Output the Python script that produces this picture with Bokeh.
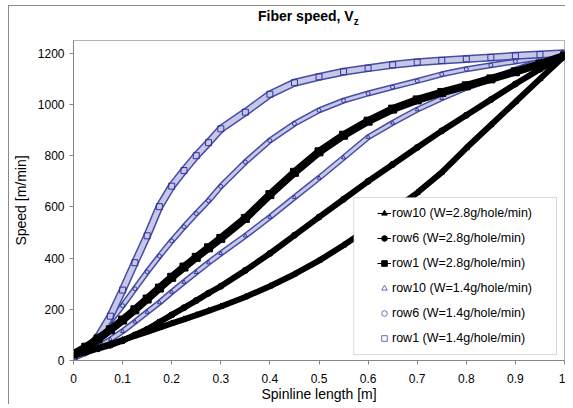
from bokeh.plotting import figure
from bokeh.models import Range1d, FixedTicker, Legend, LegendItem, BoxAnnotation, Div
from bokeh.layouts import column
from bokeh.embed import file_html
from bokeh.resources import INLINE

# ---- data ----
x = [0, 0.025, 0.05, 0.075, 0.1, 0.125, 0.15, 0.175, 0.2, 0.225, 0.25, 0.275, 0.3,
     0.35, 0.4, 0.45, 0.5, 0.55, 0.6, 0.65, 0.7, 0.75, 0.8, 0.85, 0.9, 0.95, 1.0]

row10_w28 = [20, 34, 49, 64, 80, 96, 112, 128, 145, 161, 177, 194, 211,
             248, 290, 337, 390, 450, 515, 585, 655, 735, 830, 920, 1010, 1100, 1190]
row6_w28 = [22, 33, 46, 60, 77, 100, 122, 150, 178, 206, 234, 263, 290,
            352, 418, 489, 560, 630, 700, 766, 832, 897, 958, 1019, 1080, 1138, 1190]
row1_w28 = [25, 52, 84, 120, 158, 198, 240, 283, 325, 365, 403, 440, 477,
            555, 648, 735, 815, 880, 935, 982, 1018, 1047, 1073, 1100, 1128, 1158, 1190]
row10_w14 = [12, 29, 53, 82, 114, 151, 189, 226, 267, 306, 344, 382, 418,
             487, 560, 637, 713, 792, 872, 928, 980, 1024, 1065, 1099, 1136, 1170, 1200]
row6_w14 = [12, 46, 94, 153, 214, 280, 346, 408, 467, 522, 574, 624, 680,
            775, 859, 925, 977, 1015, 1043, 1068, 1092, 1118, 1138, 1153, 1168, 1184, 1200]
row1_w14 = [12, 39, 92, 173, 275, 382, 487, 601, 681, 742, 800, 851, 905,
            970, 1040, 1085, 1108, 1128, 1142, 1155, 1165, 1172, 1178, 1184, 1190, 1195, 1200]

labels = ["row10 (W=2.8g/hole/min)", "row6 (W=2.8g/hole/min)", "row1 (W=2.8g/hole/min)",
          "row10 (W=1.4g/hole/min)", "row6 (W=1.4g/hole/min)", "row1 (W=1.4g/hole/min)"]
series = [row10_w28, row6_w28, row1_w28, row10_w14, row6_w14, row1_w14]
markers = ["triangle", "circle", "square", "triangle", "circle", "square"]

x_ticks = [0, 0.1, 0.2, 0.3, 0.4, 0.5, 0.6, 0.7, 0.8, 0.9, 1.0]
x_tick_labels = ["0", "0.1", "0.2", "0.3", "0.4", "0.5", "0.6", "0.7", "0.8", "0.9", "1"]
y_ticks = [0, 200, 400, 600, 800, 1000, 1200]

FONT = "Liberation Sans"
BLUE = "#333399"

p = figure(width=556, height=374, output_backend="svg", toolbar_location=None,
           x_range=Range1d(0, 1), y_range=Range1d(0, 1250),
           min_border_left=61, min_border_right=1, min_border_top=10, min_border_bottom=44)
p.background_fill_color = "white"
p.border_fill_color = "white"
p.outline_line_color = "#b4b4b4"
p.xgrid.grid_line_color = None
p.ygrid.grid_line_color = None
# range used only by legend sample renderers (their data fall outside the frame)
p.extra_y_ranges = {"legend_only": Range1d(start=100000, end=100001)}

for ax in (p.xaxis, p.yaxis):
    ax.axis_line_color = "#868686"
    ax.major_tick_line_color = "#868686"
    ax.minor_tick_line_color = None
    ax.major_tick_in = 0
    ax.major_tick_out = 4
    ax.major_label_text_font = FONT
    ax.major_label_text_font_size = "12px"
    ax.major_label_text_color = "black"
    ax.axis_label_text_font = FONT
    ax.axis_label_text_font_size = "14px"
    ax.axis_label_text_font_style = "normal"
    ax.axis_label_text_color = "black"

p.xaxis.ticker = FixedTicker(ticks=x_ticks)
p.xaxis.major_label_overrides = {t: l for t, l in zip(x_ticks, x_tick_labels)}
p.xaxis.axis_label = "Spinline length [m]"
p.xaxis.major_label_standoff = 9
p.xaxis.axis_label_standoff = 0
p.yaxis.ticker = FixedTicker(ticks=y_ticks)
p.yaxis.axis_label = "Speed [m/min]"
p.yaxis.major_label_standoff = 5
p.yaxis.axis_label_standoff = 6

# blue series (hollow markers, densely packed -> band)
for ys, mk, w in ((row10_w14, "triangle", 6), (row6_w14, "circle", 6), (row1_w14, "square", 8)):
    p.line(x, ys, line_color="#474da3", line_width=w)
    p.line(x, ys, line_color="#c6c8e8", line_width=w - 3)
    p.scatter(x, ys, marker=mk, size=w - 2, fill_color=None, line_color=BLUE, line_width=1)

# black series (line + filled markers)
for ys, mk, w in ((row10_w28, "triangle", 6), (row6_w28, "circle", 6), (row1_w28, "square", 8)):
    p.line(x, ys, line_color="black", line_width=w)
    p.scatter(x, ys, marker=mk, size=w, color="black")

# legend box
box = BoxAnnotation(left=0.5709, right=0.9838, bottom=23, top=637,
                    fill_color="white", fill_alpha=1, line_color="#808080", line_width=1)
p.add_layout(box)

items = []
for i, (lab, mk, ys) in enumerate(zip(labels, markers, series)):
    if i < 3:
        rl = p.line(x, ys, line_color="black", line_width=1, y_range_name="legend_only")
        rs = p.scatter(x, ys, marker=mk, size=6, color="black", y_range_name="legend_only")
        items.append(LegendItem(label=lab, renderers=[rl, rs]))
    else:
        rs = p.scatter(x, ys, marker=mk, size=6, fill_color=None, line_color="#6a6eb5",
                       line_width=1, y_range_name="legend_only")
        items.append(LegendItem(label=lab, renderers=[rs]))

legend = Legend(items=items, location=(304, 12), orientation="vertical", padding=0, spacing=5,
                glyph_width=14, glyph_height=20, label_height=20, label_standoff=1,
                label_text_font=FONT, label_text_font_size="12.5px", label_text_color="black",
                border_line_alpha=0, background_fill_alpha=0, margin=0)
p.add_layout(legend, "center")

title = Div(text=('<div style="margin-left:249px;margin-top:2px;font-family:\'Liberation Sans\';'
                  'font-size:14px;font-weight:bold;white-space:nowrap;line-height:16px;color:black;">'
                  'Fiber speed, V<sub style="font-size:10px;">z</sub></div>'),
            width=556, height=24, margin=0)

layout = column(title, p, margin=(5, 0, 0, 8), spacing=0,
                styles={"border-top": "1px solid #8a8a8a", "border-left": "1px solid #8a8a8a"})

open("out.html", "w").write(file_html(layout, INLINE))
